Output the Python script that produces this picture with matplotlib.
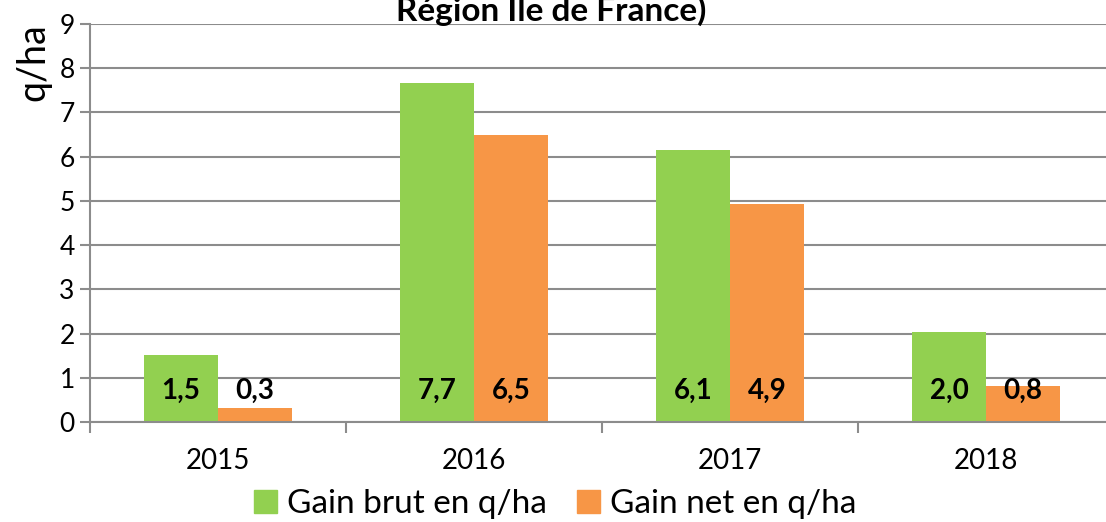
import matplotlib
matplotlib.use("Agg")
import matplotlib.pyplot as plt
import numpy as np
from matplotlib.patches import Patch

plt.rcParams['font.family'] = ['Lato', 'DejaVu Sans']

years = ["2015", "2016", "2017", "2018"]
gain_brut = [1.52, 7.67, 6.14, 2.04]
gain_net = [0.31, 6.49, 4.93, 0.82]
series_names = ["Gain brut en q/ha", "Gain net en q/ha"]
title = "Région Ile de France)"
ylabel = "q/ha"

green = "#92d050"
orange = "#f79646"
grid_c = "#8c8c8c"

W, H = 1106, 522
fig = plt.figure(figsize=(W / 100, H / 100), dpi=100)
ax = fig.add_axes([90 / W, 100 / H, 1024 / W, 398 / H])

x = np.arange(len(years))
bw = 0.289
ax.bar(x - bw / 2, gain_brut, bw, color=green, zorder=3)
ax.bar(x + bw / 2, gain_net, bw, color=orange, zorder=3)

for xi, v in zip(x - bw / 2, gain_brut):
    ax.text(xi, 0.7, f"{v:.1f}".replace(".", ","), ha="center", va="center",
            fontsize=20, fontweight="bold", zorder=4)
for xi, v in zip(x + bw / 2, gain_net):
    ax.text(xi, 0.7, f"{v:.1f}".replace(".", ","), ha="center", va="center",
            fontsize=20, fontweight="bold", zorder=4)

ax.set_xlim(-0.5, len(years) - 0.5)
ax.set_ylim(0, 9)
ax.set_yticks(range(0, 10))
ax.set_xticks(x)
ax.set_xticklabels(years)
ax.set_xticks(np.arange(-0.5, len(years), 1.0), minor=True)
ax.tick_params(axis="x", which="major", length=0, labelsize=20, pad=19)
ax.tick_params(axis="x", which="minor", length=8, width=1.5, color=grid_c, direction="out")
ax.tick_params(axis="y", length=7, width=1.5, color=grid_c, labelsize=19, pad=4, direction="out")
ax.yaxis.grid(True, color=grid_c, linewidth=1.5, zorder=0)
for s in ["top", "right"]:
    ax.spines[s].set_visible(False)
ax.spines["left"].set_color(grid_c)
ax.spines["left"].set_linewidth(1.5)
ax.spines["bottom"].set_color(grid_c)
ax.spines["bottom"].set_linewidth(1.5)
ax.spines["bottom"].set_zorder(5)

fig.text(551 / W, 1 - 21 / H, title, ha="center", va="baseline", fontsize=24, fontweight="bold")
fig.text(33 / W, 1 - 62 / H, ylabel, ha="center", va="center", rotation=90, fontsize=27)

handles = [Patch(color=green), Patch(color=orange)]
fig.legend(handles, series_names, loc="center", bbox_to_anchor=(555 / W, 1 - 504 / H),
           ncol=2, frameon=False, fontsize=24, handlelength=0.7, handleheight=0.7,
           handletextpad=0.3, columnspacing=0.9, borderaxespad=0)

fig.savefig("out.png", dpi=100)
